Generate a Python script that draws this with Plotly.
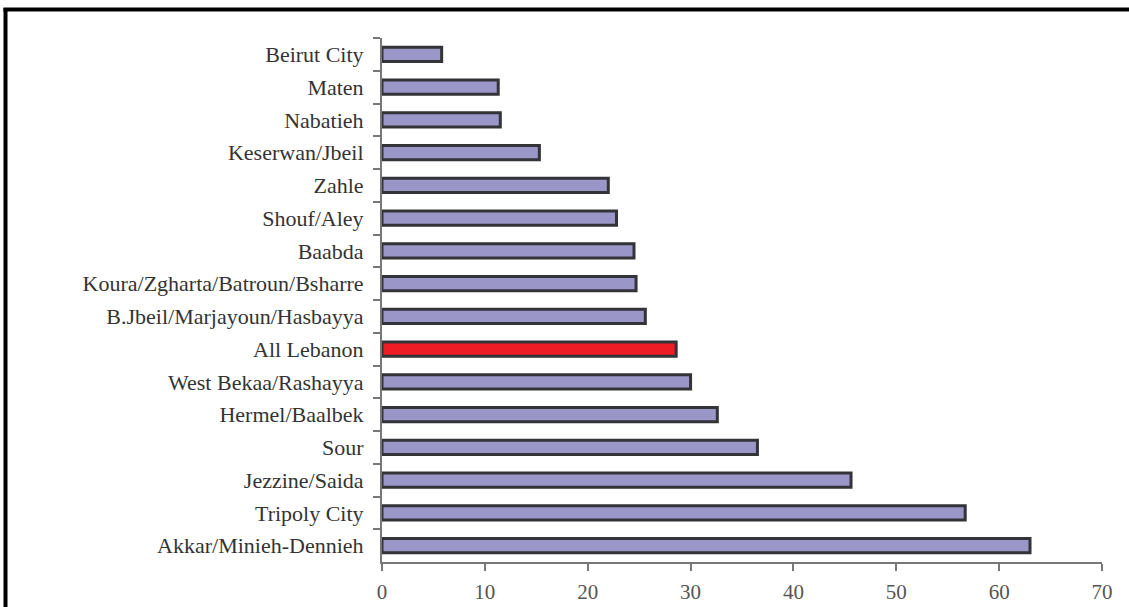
import plotly.graph_objects as go

categories = [
    "Beirut City", "Maten", "Nabatieh", "Keserwan/Jbeil", "Zahle", "Shouf/Aley",
    "Baabda", "Koura/Zgharta/Batroun/Bsharre", "B.Jbeil/Marjayoun/Hasbayya",
    "All Lebanon", "West Bekaa/Rashayya", "Hermel/Baalbek", "Sour",
    "Jezzine/Saida", "Tripoly City", "Akkar/Minieh-Dennieh",
]
values = [5.8, 11.3, 11.5, 15.3, 22.0, 22.8, 24.5, 24.7, 25.6,
          28.6, 30.0, 32.6, 36.5, 45.6, 56.7, 63.0]
x_ticks = [0, 10, 20, 30, 40, 50, 60, 70]

highlight = "All Lebanon"
colors = ["#ee1c25" if c == highlight else "#9a96c8" for c in categories]

W, H = 1129, 607
L, R, T, B = 382, 27, 38, 45
pw, ph = W - L - R, H - T - B

def px(xp):
    return (xp - L) / pw

def py(yp):
    return (H - B - yp) / ph

fig = go.Figure()
fig.add_trace(go.Bar(
    y=categories, x=values, orientation="h",
    marker=dict(color=colors, line=dict(color="#333338", width=3)),
    width=0.44,
    hoverinfo="x+y",
))

font_family = "Liberation Serif, Times New Roman, serif"

fig.update_layout(
    width=W, height=H,
    margin=dict(l=L, r=R, t=T, b=B, autoexpand=False),
    paper_bgcolor="white", plot_bgcolor="white",
    showlegend=False,
    font=dict(family=font_family, size=22, color="#333333"),
    xaxis=dict(
        range=[0, 70], tickvals=x_ticks, ticktext=[str(v) for v in x_ticks],
        showgrid=False, zeroline=False,
        showline=True, linecolor="#777777", linewidth=2,
        ticks="outside", ticklen=7, tickwidth=2, tickcolor="#777777",
        tickfont=dict(family=font_family, size=21, color="#555555"),
        ticklabelstandoff=3,
        fixedrange=True,
    ),
    yaxis=dict(
        type="category", categoryorder="array", categoryarray=categories,
        autorange="reversed",
        showgrid=False, zeroline=False,
        showline=True, linecolor="#777777", linewidth=2,
        ticks="outside", ticklen=7, tickwidth=2, tickcolor="#777777",
        tickson="boundaries",
        tickfont=dict(family=font_family, size=22, color="#333333"),
        ticklabelstandoff=12,
        fixedrange=True,
    ),
    shapes=[
        dict(type="line", xref="paper", yref="paper",
             x0=px(5.5), x1=px(5.5), y0=py(8), y1=py(640),
             line=dict(color="black", width=4)),
        dict(type="line", xref="paper", yref="paper",
             x0=px(3.5), x1=px(1160), y0=py(9.5), y1=py(9.5),
             line=dict(color="black", width=4)),
    ],
)

fig.write_html("out.html")
